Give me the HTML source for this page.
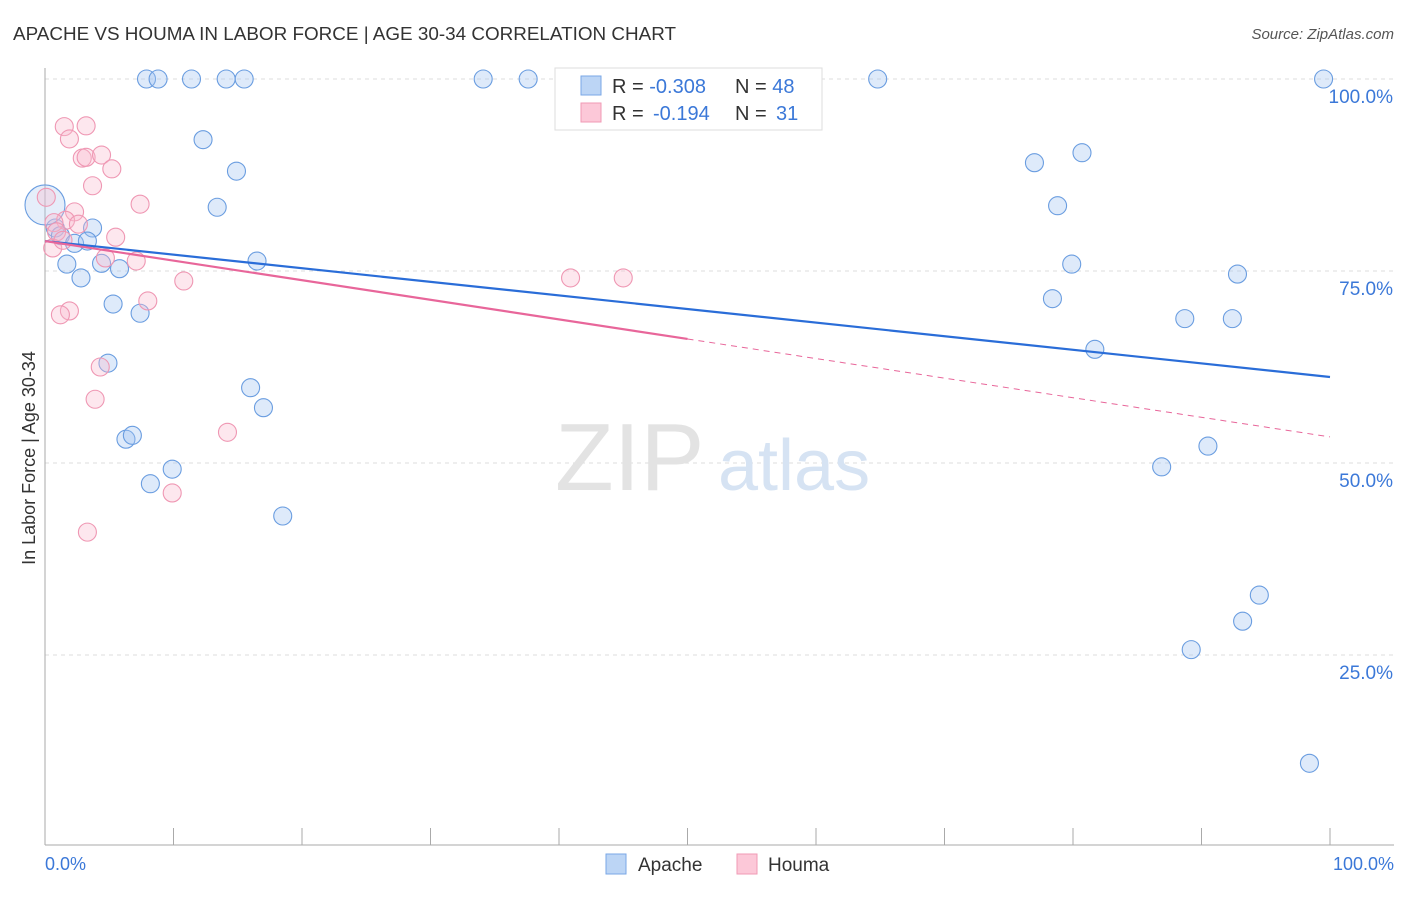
<!DOCTYPE html>
<html><head><meta charset="utf-8"><style>
body{margin:0;background:#fff;font-family:"Liberation Sans",sans-serif;}
svg text{font-family:"Liberation Sans",sans-serif;}
</style></head><body>
<svg width="1406" height="892">
<text x="13" y="40" font-size="18" fill="#333" textLength="663" lengthAdjust="spacingAndGlyphs">APACHE VS HOUMA IN LABOR FORCE | AGE 30-34 CORRELATION CHART</text>
<text x="1394" y="39" font-size="15" fill="#555" font-style="italic" text-anchor="end">Source: ZipAtlas.com</text>
<g id="grid"></g>
<text x="555" y="490" font-size="96" fill="#e3e3e3" font-family="Liberation Serif">ZIP</text>
<text x="718" y="490" font-size="72" fill="#d6e3f3">atlas</text>
<line x1="45" y1="68" x2="45" y2="845" stroke="#aaa"/>
<line x1="45" y1="845" x2="1394" y2="845" stroke="#aaa"/>
<g id="ticks"></g>
<g id="pts"></g>
<g id="lines"></g>
<text x="35" y="458" font-size="18" fill="#333" text-anchor="middle" transform="rotate(-90 35 458)">In Labor Force | Age 30-34</text>
<text x="45" y="870" font-size="18" fill="#3b78d8">0.0%</text>
<text x="1394" y="870" font-size="18" fill="#3b78d8" text-anchor="end">100.0%</text>
<g>
<rect x="555" y="68" width="267" height="62" fill="#fff" stroke="#ddd"/>
<rect x="581" y="76" width="20" height="19" fill="#bcd5f5" stroke="#7aa7e6"/>
<rect x="581" y="103" width="20" height="19" fill="#fcc8d8" stroke="#f09ab5"/>
<text x="612" y="93" font-size="20" fill="#333">R = <tspan fill="#3b78d8">-0.308</tspan><tspan x="735">N = </tspan><tspan fill="#3b78d8">48</tspan></text>
<text x="612" y="120" font-size="20" fill="#333">R = <tspan fill="#3b78d8" x="653">-0.194</tspan><tspan x="735">N = </tspan><tspan fill="#3b78d8" x="776">31</tspan></text>
</g>
<g>
<rect x="606" y="854" width="20" height="20" fill="#bcd5f5" stroke="#7aa7e6"/>
<text x="638" y="871" font-size="19" fill="#333">Apache</text>
<rect x="737" y="854" width="20" height="20" fill="#fcc8d8" stroke="#f09ab5"/>
<text x="768" y="871" font-size="19" fill="#333">Houma</text>
</g>
</svg>
<script>
const yTicks=[100,75,50,25];
const yTickLabels=["100.0%","75.0%","50.0%","25.0%"];
const xTicks=[0,10,20,30,40,50,60,70,80,90,100];
const apacheX=[7.9,8.8,11.4,14.1,15.5,34.1,37.6,64.8,99.5,12.3,14.9,13.4,3.7,0.8,1.2,2.3,3.3,1.7,4.4,5.8,2.8,16.5,5.3,7.4,4.9,16.0,17.0,6.3,6.8,9.9,8.2,18.5,77.0,80.7,78.8,79.9,92.8,78.4,88.7,92.4,81.7,90.5,86.9,94.5,93.2,89.2,98.4,0.0];
const apacheY=[100,100,100,100,100,100,100,100,100,92.1,88.0,83.3,80.6,80.6,79.6,78.6,78.9,75.9,76.0,75.3,74.1,76.3,70.7,69.5,63.0,59.8,57.2,53.1,53.6,49.2,47.3,43.1,89.1,90.4,83.5,75.9,74.6,71.4,68.8,68.8,64.8,52.2,49.5,32.8,29.4,25.7,10.9,83.6];
const houmaX=[1.5,3.2,1.9,2.9,3.2,4.4,5.2,3.7,7.4,0.1,2.3,1.6,2.6,0.7,0.9,5.5,0.6,4.7,7.1,10.8,8.0,1.9,1.2,4.3,3.9,14.2,9.9,3.3,40.9,45.0,1.4];
const houmaY=[93.8,93.9,92.2,89.7,89.8,90.1,88.3,86.1,83.7,84.6,82.7,81.6,81.1,81.3,80.1,79.4,78.0,76.7,76.3,73.7,71.1,69.8,69.3,62.5,58.3,54.0,46.1,41.0,74.1,74.1,79.0];
const apacheTrend=[78.9,61.2];
const houmaTrend=[78.9,53.4];
const houmaSolidEnd=50;
const NS="http://www.w3.org/2000/svg";
const sx=v=>45+v*12.85, sy=v=>847-v*7.68;
function mk(t,a,p){const e=document.createElementNS(NS,t);for(const k in a)e.setAttribute(k,a[k]);p.appendChild(e);return e;}
const grid=document.getElementById('grid'),ticks=document.getElementById('ticks'),pts=document.getElementById('pts'),lines=document.getElementById('lines');
yTicks.forEach((v,i)=>{
 const l=mk('line',{x1:45,x2:1394,y1:sy(v),y2:sy(v),stroke:'#ddd','stroke-dasharray':'4,4'},grid);
 
 
 const t=mk('text',{x:1393,y:sy(v)+24,'font-size':19,fill:'#3b78d8','text-anchor':'end'},grid);
 t.textContent=yTickLabels[i];
 
 
});
xTicks.forEach(v=>{
 const l=mk('line',{x1:sx(v),x2:sx(v),y1:828,y2:845,stroke:'#aaa'},ticks);
 
 
});
apacheX.forEach((x,i)=>{
 const big=(i===apacheX.length-1);
 const c=mk('circle',{cx:sx(x),cy:sy(apacheY[i]),r:big?20:9,fill:big?'rgba(170,200,240,0.3)':'rgba(160,195,240,0.35)',stroke:'#6a9de0','stroke-width':1.1},pts);
 
 
});
houmaX.forEach((x,i)=>{
 const c=mk('circle',{cx:sx(x),cy:sy(houmaY[i]),r:9,fill:'rgba(250,185,205,0.35)',stroke:'#ef97b3','stroke-width':1.1},pts);
 
 
});
const a=mk('line',{x1:sx(0),y1:sy(apacheTrend[0]),x2:sx(100),y2:sy(apacheTrend[1]),stroke:'#2a6dd8','stroke-width':2.2},lines);


const hm=houmaTrend[0]+(houmaTrend[1]-houmaTrend[0])*houmaSolidEnd/100;
const h1=mk('line',{x1:sx(0),y1:sy(houmaTrend[0]),x2:sx(houmaSolidEnd),y2:sy(hm),stroke:'#e8669a','stroke-width':2.2},lines);


const h2=mk('line',{x1:sx(houmaSolidEnd),y1:sy(hm),x2:sx(100),y2:sy(houmaTrend[1]),stroke:'#e8669a','stroke-width':1,'stroke-dasharray':'6,5'},lines);


</script>
</body></html>
